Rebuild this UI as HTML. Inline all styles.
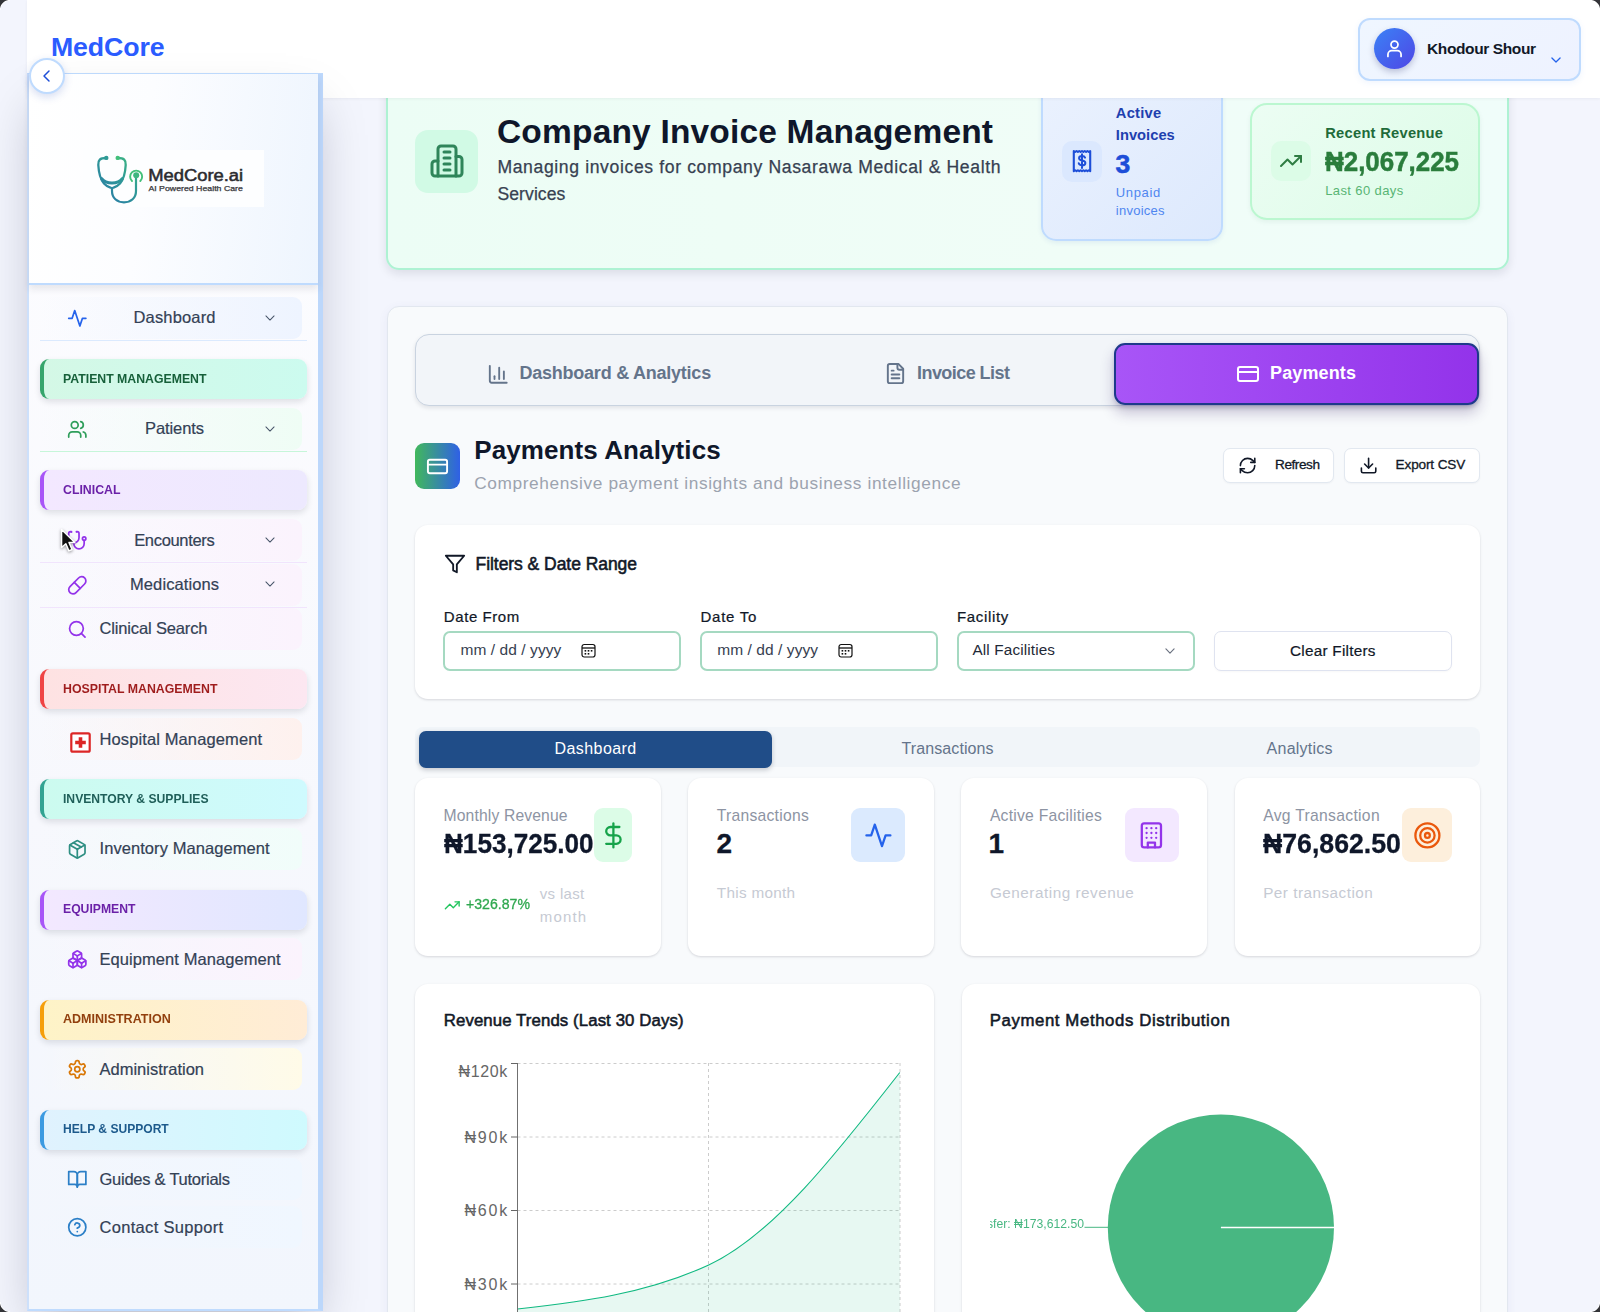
<!DOCTYPE html>
<html lang="en">
<head>
<meta charset="utf-8">
<title>MedCore - Company Invoice Management</title>
<style>
*{box-sizing:border-box;margin:0;padding:0}
html,body{width:1600px;height:1312px;overflow:hidden}
body{font-family:"Liberation Sans",sans-serif;background:#f3f5fd;position:relative;color:#0f172a}
.abs{position:absolute}
.t{position:absolute;white-space:nowrap;line-height:1}
svg{display:block;overflow:visible}
.ico{position:absolute;fill:none;stroke-linecap:round;stroke-linejoin:round}
.corner{position:absolute;width:10px;height:10px;z-index:50}
#hdr{left:27px;top:0;width:1573px;height:98px;background:#fff;z-index:10;box-shadow:0 1px 3px rgba(15,23,42,.05)}
#user{left:1358px;top:18px;width:223px;height:63px;border:2px solid #bfdbfe;border-radius:12px;background:linear-gradient(135deg,#eff6ff,#eef2ff);z-index:11;box-shadow:0 2px 6px rgba(59,130,246,.08)}
#avatar{left:1374px;top:28px;width:41px;height:41px;border-radius:50%;background:linear-gradient(135deg,#3b82f6,#4f46e5);z-index:12;box-shadow:0 3px 6px rgba(30,41,99,.25)}
#side{left:27px;top:73px;width:296px;height:1238px;background:linear-gradient(180deg,#fdfdff 0%,#f7f8fd 60%,#f2f6fd 100%);border-left:2px solid #cde0fb;border-right:5px solid #bcd7fb;border-top:1px solid #bfdbfe;border-bottom:2px solid #bfdbfe;z-index:20;box-shadow:0 25px 50px -12px rgba(10,12,40,.27)}
#logoP{left:29px;top:74px;width:289px;height:211px;background:linear-gradient(97deg,#ffffff 0%,#fcfdff 40%,#eef5fe 100%);border-bottom:2px solid #bfdbfe;z-index:21;box-shadow:0 4px 7px rgba(40,42,60,.10)}
#logoImg{left:83px;top:150px;width:181px;height:57px;background:#fdfeff;z-index:22}
#collapse{left:29px;top:58px;width:36px;height:36px;border-radius:50%;background:#fff;border:2px solid #bfdbfe;z-index:30;box-shadow:0 3px 8px rgba(30,64,175,.18)}
.sec{position:absolute;left:40px;width:267px;height:40px;border-radius:9px;border-left:4px solid;z-index:22;box-shadow:0 3px 6px rgba(15,23,42,.12)}
.nav{position:absolute;left:40px;width:262px;height:42px;border-radius:9px;z-index:22}
.navline{position:absolute;left:40px;width:267px;height:1px;z-index:22}
.chev{position:absolute;z-index:23;stroke:#475569;fill:none;stroke-width:1.8;stroke-linecap:round;stroke-linejoin:round}
.ni{position:absolute;z-index:23;fill:none;stroke-width:2;stroke-linecap:round;stroke-linejoin:round}
#hero{left:386.4px;top:59.5px;width:1122.6px;height:210px;border:2px solid #aef2d3;border-radius:13px;background:linear-gradient(90deg,#ecfdf5,#f0fdf7 60%,#f0fdfa);box-shadow:0 4px 10px rgba(15,23,42,.10);z-index:1}
#panel{left:387px;top:306px;width:1121.4px;height:1100px;border:1px solid #e2e7ef;border-radius:12px;background:#f8fafc;z-index:1;box-shadow:0 2px 10px rgba(80,90,150,.07)}
.card{position:absolute;background:#fff;border-radius:13px;box-shadow:0 1px 3px rgba(15,23,42,.10),0 1px 2px rgba(15,23,42,.05);z-index:2}
</style>
</head>
<body>
<div id="hdr" class="abs"></div>
<div class="t" style="left:51.0px;top:33.8px;font-size:26.7px;color:#2b5cff;z-index:11;font-weight:700;letter-spacing:-0.112px;">MedCore</div>
<div id="user" class="abs"></div><div id="avatar" class="abs"></div>
<svg class="ico" style="left:1384px;top:38px;z-index:13;stroke:#fff;stroke-width:2;" width="21" height="21" viewBox="0 0 24 24"><circle cx="12" cy="7.5" r="4"/><path d="M4.5 21v-2.2a4.3 4.3 0 0 1 4.3-4.3h6.4a4.3 4.3 0 0 1 4.3 4.3V21"/></svg>
<div class="t" style="left:1427.0px;top:40.6px;font-size:15.5px;color:#111827;z-index:12;font-weight:700;letter-spacing:-0.388px;">Khodour Shour</div>
<svg class="ico" style="left:1549px;top:53px;z-index:12;stroke:#2563eb;stroke-width:2.2;" width="14" height="14" viewBox="0 0 24 24"><path d="M5 8.5l7 7 7-7"/></svg>
<div id="side" class="abs"></div><div id="logoP" class="abs"></div><div id="logoImg" class="abs"></div>
<svg class="abs" style="left:83px;top:150px;z-index:23" width="181" height="57" viewBox="83 150 181 57">
<defs><linearGradient id="lg1" x1="100" y1="200" x2="140" y2="158" gradientUnits="userSpaceOnUse"><stop offset="0" stop-color="#2878a8"/><stop offset=".55" stop-color="#2f9a96"/><stop offset="1" stop-color="#43c07a"/></linearGradient></defs>
<g fill="none" stroke="url(#lg1)" stroke-width="2.300" stroke-linecap="round" stroke-linejoin="round">
<path d="M106 158 C100 158 98 160 98.3 165 C98.8 174 100 179 104 183.5 C107 187 111 187.5 111.5 188"/>
<path d="M118 158 C124 158 126 160 125.7 165 C125.2 174 124 179 120 183.5 C117 187 113 187.5 112.5 188"/>
<path d="M101.5 178.5 C106 184.5 118 184.5 122.5 178.5" stroke-width="3"/>
<path d="M112 188 V191 C112 198 117 202.3 124 202.3 C131 202.3 136 198 136 191 V176.5" stroke-width="2.2"/>
<path d="M132 181 A6 6 0 1 1 140.3 181" stroke="#43c07a" stroke-width="1.900"/>
</g>
<circle cx="106.3" cy="157.9" r="2.200" fill="#2f9a96"/><circle cx="117.7" cy="157.9" r="2.200" fill="#43c07a"/>
<circle cx="136.200" cy="175.200" r="3" fill="#3fb57f"/>
<text x="148.2" y="181" font-family="Liberation Sans, sans-serif" font-size="15.6" fill="#2b2b2f" stroke="#2b2b2f" stroke-width=".5" textLength="95" lengthAdjust="spacingAndGlyphs">MedCore.ai</text>
<text x="148.4" y="190.8" font-family="Liberation Sans, sans-serif" font-size="7" fill="#3a3a3e" stroke="#3a3a3e" stroke-width=".25" textLength="94.5" lengthAdjust="spacingAndGlyphs">AI Powered Health Care</text>
</svg>
<div id="collapse" class="abs"></div>
<svg class="ico" style="left:39px;top:68px;z-index:31;stroke:#1d4ed8;stroke-width:2.2;" width="16" height="16" viewBox="0 0 24 24"><path d="M15 4.5L7.5 12l7.5 7.5"/></svg>
<div class="nav" style="top:297px;background:linear-gradient(90deg,rgba(255,255,255,0) 0%,#eef4ff 100%)"></div>
<div class="navline" style="top:340.4px;background:#dbeafe"></div>
<svg class="ni" style="left:67px;top:307.8px;stroke:#2563eb" width="20.6" height="20.6" viewBox="0 0 24 24"><path d="M22 12h-4l-3 9L9 3l-3 9H2"/></svg>
<div class="t" style="left:133.5px;top:309.1px;font-size:16.5px;color:#334155;z-index:23;letter-spacing:0.162px;-webkit-text-stroke:0.2px #334155;">Dashboard</div>
<svg class="chev" style="left:263px;top:310.6px" width="14" height="14" viewBox="0 0 24 24"><path d="M5 8.5l7 7 7-7"/></svg>
<div class="sec" style="top:359px;background:linear-gradient(90deg,#d4f8e6,#ccfbef);border-left-color:#36a56c"></div>
<div class="t" style="left:63.0px;top:371.7px;font-size:13.7px;color:#17603a;z-index:23;font-weight:700;transform:scaleX(0.8972);transform-origin:0 50%;">PATIENT MANAGEMENT</div>
<div class="nav" style="top:408px;background:linear-gradient(90deg,rgba(255,255,255,0) 0%,#effdf5 100%)"></div>
<div class="navline" style="top:451.4px;background:#c6f6d9"></div>
<svg class="ni" style="left:67px;top:418.8px;stroke:#2f9e5b" width="20.6" height="20.6" viewBox="0 0 24 24"><path d="M16 21v-2a4 4 0 0 0-4-4H6a4 4 0 0 0-4 4v2"/><circle cx="9" cy="7" r="4"/><path d="M22 21v-2a4 4 0 0 0-3-3.87"/><path d="M16 3.13a4 4 0 0 1 0 7.75"/></svg>
<div class="t" style="left:145.0px;top:420.3px;font-size:16.5px;color:#334155;z-index:23;letter-spacing:-0.085px;-webkit-text-stroke:0.2px #334155;">Patients</div>
<svg class="chev" style="left:263px;top:421.6px" width="14" height="14" viewBox="0 0 24 24"><path d="M5 8.5l7 7 7-7"/></svg>
<div class="sec" style="top:470px;background:linear-gradient(90deg,#f3e8ff,#ede9fe);border-left-color:#a855f7"></div>
<div class="t" style="left:63.0px;top:482.7px;font-size:13.7px;color:#6b21a8;z-index:23;font-weight:700;transform:scaleX(0.9002);transform-origin:0 50%;">CLINICAL</div>
<div class="nav" style="top:519px;background:linear-gradient(90deg,rgba(255,255,255,0) 0%,#fbf3fd 100%)"></div>
<div class="navline" style="top:562.4px;background:#f1e4fd"></div>
<svg class="ni" style="left:67px;top:529.8px;stroke:#9333ea" width="20.6" height="20.6" viewBox="0 0 24 24"><path d="M4.8 2.3A.3.3 0 1 0 5 2H4a2 2 0 0 0-2 2v5a6 6 0 0 0 6 6 6 6 0 0 0 6-6V4a2 2 0 0 0-2-2h-1a.2.2 0 1 0 .3.3"/><path d="M8 15v1a6 6 0 0 0 6 6 6 6 0 0 0 6-6v-4"/><circle cx="20" cy="10" r="2"/></svg>
<div class="t" style="left:134.2px;top:531.8px;font-size:16.5px;color:#334155;z-index:23;letter-spacing:-0.326px;-webkit-text-stroke:0.2px #334155;">Encounters</div>
<svg class="chev" style="left:263px;top:532.6px" width="14" height="14" viewBox="0 0 24 24"><path d="M5 8.5l7 7 7-7"/></svg>
<div class="nav" style="top:563.8px;background:linear-gradient(90deg,rgba(255,255,255,0) 0%,#fbf3fd 100%)"></div>
<div class="navline" style="top:607.2px;background:#f1e4fd"></div>
<svg class="ni" style="left:67px;top:574.6px;stroke:#9333ea" width="20.6" height="20.6" viewBox="0 0 24 24"><path d="m10.5 20.5 10-10a4.95 4.95 0 1 0-7-7l-10 10a4.95 4.95 0 1 0 7 7Z"/><path d="m8.5 8.5 7 7"/></svg>
<div class="t" style="left:130.0px;top:576.1px;font-size:16.5px;color:#334155;z-index:23;letter-spacing:0.097px;-webkit-text-stroke:0.2px #334155;">Medications</div>
<svg class="chev" style="left:263px;top:577.4px" width="14" height="14" viewBox="0 0 24 24"><path d="M5 8.5l7 7 7-7"/></svg>
<div class="nav" style="top:608.4px;background:linear-gradient(90deg,rgba(255,255,255,0) 0%,#fbf3fd 100%)"></div>
<svg class="ni" style="left:67px;top:619.2px;stroke:#9333ea" width="20.6" height="20.6" viewBox="0 0 24 24"><circle cx="11" cy="11" r="8"/><path d="m21 21-4.3-4.3"/></svg>
<div class="t" style="left:99.5px;top:620.2px;font-size:16.5px;color:#334155;z-index:23;letter-spacing:-0.146px;-webkit-text-stroke:0.2px #334155;">Clinical Search</div>
<div class="sec" style="top:669px;background:linear-gradient(90deg,#fee2e2,#fce7f1);border-left-color:#ef4444"></div>
<div class="t" style="left:63.0px;top:681.7px;font-size:13.7px;color:#9f1d1d;z-index:23;font-weight:700;transform:scaleX(0.9017);transform-origin:0 50%;">HOSPITAL MANAGEMENT</div>
<div class="nav" style="top:718px;background:linear-gradient(90deg,rgba(255,255,255,0) 0%,#fef1ee 100%)"></div>
<svg class="ni" style="left:70.4px;top:732.0px" width="21" height="21" viewBox="0 0 21 21"><rect x="1.3" y="1.3" width="18.4" height="18.4" rx="1.5" fill="#fff" stroke="#dc2626" stroke-width="2.2"/><path d="M10.5 5.2v10.6M5.2 10.5h10.6" stroke="#dc2626" stroke-width="3.6" stroke-linecap="butt"/></svg>
<div class="t" style="left:99.5px;top:730.6px;font-size:16.5px;color:#334155;z-index:23;letter-spacing:0.113px;-webkit-text-stroke:0.2px #334155;">Hospital Management</div>
<div class="sec" style="top:779px;background:linear-gradient(90deg,#ccfbef,#cffafe);border-left-color:#32a392"></div>
<div class="t" style="left:63.0px;top:791.7px;font-size:13.7px;color:#1f5f59;z-index:23;font-weight:700;transform:scaleX(0.8873);transform-origin:0 50%;">INVENTORY &amp; SUPPLIES</div>
<div class="nav" style="top:828px;background:linear-gradient(90deg,rgba(255,255,255,0) 0%,#f1fdfa 100%)"></div>
<svg class="ni" style="left:67px;top:838.8px;stroke:#2f8f83" width="20.6" height="20.6" viewBox="0 0 24 24"><path d="m7.5 4.27 9 5.15"/><path d="M21 8a2 2 0 0 0-1-1.73l-7-4a2 2 0 0 0-2 0l-7 4A2 2 0 0 0 3 8v8a2 2 0 0 0 1 1.73l7 4a2 2 0 0 0 2 0l7-4A2 2 0 0 0 21 16Z"/><path d="m3.3 7 8.7 5 8.7-5"/><path d="M12 22V12"/></svg>
<div class="t" style="left:99.5px;top:840.4px;font-size:16.5px;color:#334155;z-index:23;letter-spacing:0.068px;-webkit-text-stroke:0.2px #334155;">Inventory Management</div>
<div class="sec" style="top:889.5px;background:linear-gradient(90deg,#f3e8ff,#e0e7ff);border-left-color:#a855f7"></div>
<div class="t" style="left:63.0px;top:902.2px;font-size:13.7px;color:#6b21a8;z-index:23;font-weight:700;transform:scaleX(0.8911);transform-origin:0 50%;">EQUIPMENT</div>
<div class="nav" style="top:938px;background:linear-gradient(90deg,rgba(255,255,255,0) 0%,#fbf3fd 100%)"></div>
<svg class="ni" style="left:67px;top:948.8px;stroke:#9333ea" width="20.6" height="20.6" viewBox="0 0 24 24"><path d="M2.97 12.92A2 2 0 0 0 2 14.63v3.24a2 2 0 0 0 .97 1.71l3 1.8a2 2 0 0 0 2.06 0L12 19v-5.5l-5-3-4.03 2.42Z"/><path d="m7 16.5-4.74-2.85"/><path d="m7 16.5 5-3"/><path d="M7 16.5v5.17"/><path d="M12 13.5V19l3.97 2.38a2 2 0 0 0 2.06 0l3-1.8a2 2 0 0 0 .97-1.71v-3.24a2 2 0 0 0-.97-1.71L17 10.5l-5 3Z"/><path d="m17 16.5-5-3"/><path d="m17 16.5 4.74-2.85"/><path d="M17 16.5v5.17"/><path d="M7.97 4.42A2 2 0 0 0 7 6.13v4.37l5 3 5-3V6.13a2 2 0 0 0-.97-1.71l-3-1.8a2 2 0 0 0-2.06 0l-3 1.8Z"/><path d="M12 8 7.26 5.15"/><path d="m12 8 4.74-2.85"/><path d="M12 13.5V8"/></svg>
<div class="t" style="left:99.5px;top:950.6px;font-size:16.5px;color:#334155;z-index:23;letter-spacing:0.067px;-webkit-text-stroke:0.2px #334155;">Equipment Management</div>
<div class="sec" style="top:999.5px;background:linear-gradient(90deg,#fef3c7,#ffecd6);border-left-color:#f59e0b"></div>
<div class="t" style="left:63.0px;top:1012.2px;font-size:13.7px;color:#92400e;z-index:23;font-weight:700;transform:scaleX(0.9157);transform-origin:0 50%;">ADMINISTRATION</div>
<div class="nav" style="top:1048px;background:linear-gradient(90deg,rgba(255,255,255,0) 0%,#fffbe8 100%)"></div>
<svg class="ni" style="left:67px;top:1058.8px;stroke:#d97706" width="20.6" height="20.6" viewBox="0 0 24 24"><path d="M12.22 2h-.44a2 2 0 0 0-2 2v.18a2 2 0 0 1-1 1.73l-.43.25a2 2 0 0 1-2 0l-.15-.08a2 2 0 0 0-2.73.73l-.22.38a2 2 0 0 0 .73 2.73l.15.1a2 2 0 0 1 1 1.72v.51a2 2 0 0 1-1 1.74l-.15.09a2 2 0 0 0-.73 2.73l.22.38a2 2 0 0 0 2.73.73l.15-.08a2 2 0 0 1 2 0l.43.25a2 2 0 0 1 1 1.73V20a2 2 0 0 0 2 2h.44a2 2 0 0 0 2-2v-.18a2 2 0 0 1 1-1.73l.43-.25a2 2 0 0 1 2 0l.15.08a2 2 0 0 0 2.73-.73l.22-.39a2 2 0 0 0-.73-2.73l-.15-.08a2 2 0 0 1-1-1.74v-.5a2 2 0 0 1 1-1.74l.15-.09a2 2 0 0 0 .73-2.73l-.22-.38a2 2 0 0 0-2.73-.73l-.15.08a2 2 0 0 1-2 0l-.43-.25a2 2 0 0 1-1-1.73V4a2 2 0 0 0-2-2z"/><circle cx="12" cy="12" r="3"/></svg>
<div class="t" style="left:99.5px;top:1060.8px;font-size:16.5px;color:#334155;z-index:23;-webkit-text-stroke:0.2px #334155;">Administration</div>
<div class="sec" style="top:1109.5px;background:linear-gradient(90deg,#e0f2fe,#cffafe);border-left-color:#3b9ae1"></div>
<div class="t" style="left:63.0px;top:1122.2px;font-size:13.7px;color:#1d5a8c;z-index:23;font-weight:700;transform:scaleX(0.8816);transform-origin:0 50%;">HELP &amp; SUPPORT</div>
<div class="nav" style="top:1158px;background:linear-gradient(90deg,rgba(255,255,255,0) 0%,#f0f7ff 100%)"></div>
<svg class="ni" style="left:67px;top:1168.8px;stroke:#2b7fc7" width="20.6" height="20.6" viewBox="0 0 24 24"><path d="M2 3h6a4 4 0 0 1 4 4v14a3 3 0 0 0-3-3H2z"/><path d="M22 3h-6a4 4 0 0 0-4 4v14a3 3 0 0 1 3-3h7z"/></svg>
<div class="t" style="left:99.5px;top:1170.9px;font-size:16.5px;color:#334155;z-index:23;letter-spacing:-0.252px;-webkit-text-stroke:0.2px #334155;">Guides &amp; Tutorials</div>
<div class="nav" style="top:1206px;background:linear-gradient(90deg,rgba(255,255,255,0) 0%,#f0f7ff 100%)"></div>
<svg class="ni" style="left:67px;top:1216.8px;stroke:#2b7fc7" width="20.6" height="20.6" viewBox="0 0 24 24"><circle cx="12" cy="12" r="10"/><path d="M9.09 9a3 3 0 0 1 5.83 1c0 2-3 3-3 3"/><path d="M12 17h.01"/></svg>
<div class="t" style="left:99.5px;top:1218.7px;font-size:16.5px;color:#334155;z-index:23;letter-spacing:0.308px;-webkit-text-stroke:0.2px #334155;">Contact Support</div>
<svg class="abs" style="left:60px;top:527.6px;z-index:40;filter:drop-shadow(0 1px 1.5px rgba(0,0,0,.4))" width="18.8" height="27.2" viewBox="0 0 18 26"><path d="M1.5 1.5v17.2l4.1-3.7 2.9 6.9 3-1.3-2.9-6.7h5.6z" fill="#111" stroke="#fff" stroke-width="1.4" stroke-linejoin="round"/></svg>
<div id="hero" class="abs"></div>
<div class="abs" style="left:415px;top:130px;width:63px;height:63px;background:#d1fae5;border-radius:13px;z-index:2"></div>
<svg class="ico" style="left:428.5px;top:143px;z-index:3;stroke:#2f855a;stroke-width:2;" width="36" height="36" viewBox="0 0 24 24"><path d="M6 22V4a2 2 0 0 1 2-2h8a2 2 0 0 1 2 2v18Z"/><path d="M6 12H4a2 2 0 0 0-2 2v6a2 2 0 0 0 2 2h2"/><path d="M18 9h2a2 2 0 0 1 2 2v9a2 2 0 0 1-2 2h-2"/><path d="M10 6h4"/><path d="M10 10h4"/><path d="M10 14h4"/><path d="M10 18h4"/></svg>
<div class="t" style="left:497.0px;top:114.6px;font-size:33.5px;color:#0f172a;z-index:3;font-weight:700;letter-spacing:0.182px;">Company Invoice Management</div>
<div class="t" style="left:497.4px;top:158.7px;font-size:17.6px;color:#374151;z-index:3;letter-spacing:0.624px;-webkit-text-stroke:0.25px #374151;">Managing invoices for company Nasarawa Medical &amp; Health</div>
<div class="t" style="left:497.4px;top:186.0px;font-size:17.6px;color:#374151;z-index:3;letter-spacing:0.078px;-webkit-text-stroke:0.25px #374151;">Services</div>
<div class="abs" style="left:1041px;top:60px;width:181.5px;height:180.6px;border:2px solid #bfdbfe;border-radius:15px;background:linear-gradient(135deg,#ebf2fe,#dde9fd);z-index:2;box-shadow:0 2px 5px rgba(30,64,175,.08)"></div>
<div class="abs" style="left:1061.5px;top:141.2px;width:40.3px;height:40.5px;background:#dbe8fe;border-radius:10px;z-index:3"></div>
<svg class="abs" style="left:1071.5px;top:149.4px;z-index:4" width="20" height="24.2" viewBox="0 0 19 23"><path d="M1.7 1.9l1.3.9 1.3-.9 1.3.9 1.3-.9 1.3.9 1.3-.9 1.3.9 1.3-.9 1.3.9 1.3-.9 1.3.9 1.3-.9V21.1l-1.3-.9-1.3.9-1.3-.9-1.3.9-1.3-.9-1.3.9-1.3-.9-1.3.9-1.3-.9-1.3.9-1.3-.9-1.3.9z" fill="none" stroke="#1d4ed8" stroke-width="2" stroke-linejoin="round"/><path d="M12.4 8.2c-.4-1-1.400-1.600-2.800-1.600-1.700 0-2.900.8-2.900 2.200 0 3 6 1.300 6 4.400 0 1.500-1.300 2.300-3.100 2.300-1.600 0-2.800-.7-3.200-1.900M9.500 5v13" fill="none" stroke="#1d4ed8" stroke-width="1.9" stroke-linecap="round"/></svg>
<div class="t" style="left:1115.8px;top:105.8px;font-size:14.7px;color:#1e40af;z-index:4;font-weight:700;letter-spacing:0.261px;">Active</div>
<div class="t" style="left:1115.8px;top:128.4px;font-size:14.7px;color:#1e40af;z-index:4;font-weight:700;letter-spacing:0.031px;">Invoices</div>
<div class="t" style="left:1115.5px;top:150.8px;font-size:26.5px;color:#1d4ed8;z-index:4;font-weight:700;-webkit-text-stroke:0.6px #1d4ed8;">3</div>
<div class="t" style="left:1115.8px;top:186.2px;font-size:13px;color:#4f86f0;z-index:4;letter-spacing:0.656px;">Unpaid</div>
<div class="t" style="left:1115.8px;top:204.2px;font-size:13px;color:#4f86f0;z-index:4;letter-spacing:0.245px;">invoices</div>
<div class="abs" style="left:1250px;top:103px;width:230px;height:117px;border:2px solid #bbf7d0;border-radius:17px;background:linear-gradient(135deg,#ecfdf3,#dcfce7);z-index:2;box-shadow:0 2px 5px rgba(22,101,52,.07)"></div>
<div class="abs" style="left:1270.5px;top:141px;width:40.5px;height:40.3px;background:#dcfce7;border-radius:10px;z-index:3"></div>
<svg class="ico" style="left:1278.8px;top:149px;z-index:4;stroke:#2f7d43;stroke-width:2;" width="24" height="24" viewBox="0 0 24 24"><path d="M22 7l-8.500 8.500-5-5L2 17"/><path d="M16 7h6v6"/></svg>
<div class="t" style="left:1325.2px;top:126.3px;font-size:14.7px;color:#1f6b3a;z-index:4;font-weight:700;letter-spacing:0.269px;">Recent Revenue</div>
<div class="t" style="left:1325.0px;top:148.3px;font-size:27.4px;color:#2a7d3c;z-index:4;font-weight:700;-webkit-text-stroke:0.5px #2a7d3c;transform:scaleX(0.9461);transform-origin:0 50%;">₦2,067,225</div>
<div class="t" style="left:1325.2px;top:184.0px;font-size:13px;color:#58b574;z-index:4;letter-spacing:0.388px;">Last 60 days</div>
<div id="panel" class="abs"></div>
<div class="abs" style="left:415px;top:334px;width:1065px;height:72px;background:#f2f5f9;border:1px solid #c9d3e0;border-radius:14px;z-index:2;box-shadow:0 2px 4px rgba(15,23,42,.10)"></div>
<svg class="ico" style="left:486.9px;top:362.7px;z-index:3;stroke:#64748b;stroke-width:2;" width="22.5" height="22.5" viewBox="0 0 24 24"><path d="M3 3v16a2 2 0 0 0 2 2h16"/><path d="M18 17V9"/><path d="M13 17V5"/><path d="M8 17v-3"/></svg>
<div class="t" style="left:519.5px;top:363.9px;font-size:18px;color:#64748b;z-index:3;font-weight:700;letter-spacing:-0.237px;">Dashboard &amp; Analytics</div>
<svg class="ico" style="left:884.1px;top:362px;z-index:3;stroke:#64748b;stroke-width:2;" width="23" height="23" viewBox="0 0 24 24"><path d="M15 2H6a2 2 0 0 0-2 2v16a2 2 0 0 0 2 2h12a2 2 0 0 0 2-2V7Z"/><path d="M14 2v4a2 2 0 0 0 2 2h4"/><path d="M10 9H8"/><path d="M16 13H8"/><path d="M16 17H8"/></svg>
<div class="t" style="left:917.0px;top:363.9px;font-size:18px;color:#64748b;z-index:3;font-weight:700;letter-spacing:-0.551px;">Invoice List</div>
<div class="abs" style="left:1114px;top:343px;width:365px;height:62px;background:linear-gradient(90deg,#a855f7,#9333ea);border:2px solid #1e3a8a;border-radius:11px;z-index:3;box-shadow:0 8px 14px rgba(40,20,90,.24),0 2px 4px rgba(40,20,90,.15)"></div>
<svg class="ico" style="left:1236px;top:361.5px;z-index:4;stroke:#fff;stroke-width:2;" width="24" height="24" viewBox="0 0 24 24"><rect x="2" y="5" width="20" height="14" rx="2"/><path d="M2 10h20"/></svg>
<div class="t" style="left:1270.0px;top:363.9px;font-size:18px;color:#fff;z-index:4;font-weight:700;letter-spacing:0.134px;">Payments</div>
<div class="abs" style="left:415px;top:443px;width:45px;height:45.5px;background:linear-gradient(90deg,#41b85c,#2f60e6);border-radius:9px;z-index:2"></div>
<svg class="ico" style="left:426px;top:454.6px;z-index:3;stroke:#fff;stroke-width:2;" width="23" height="23" viewBox="0 0 24 24"><rect x="2" y="5" width="20" height="14" rx="2"/><path d="M2 10h20"/></svg>
<div class="t" style="left:474.2px;top:437.4px;font-size:26px;color:#0f172a;z-index:3;font-weight:700;letter-spacing:0.104px;">Payments Analytics</div>
<div class="t" style="left:474.2px;top:474.7px;font-size:17.3px;color:#9ca3af;z-index:3;letter-spacing:0.598px;">Comprehensive payment insights and business intelligence</div>
<div class="abs" style="left:1223.4px;top:448px;width:111px;height:35px;background:#fff;border:1px solid #e2e8f0;border-radius:7px;z-index:2;box-shadow:0 1px 2px rgba(15,23,42,.04)"></div>
<svg class="ico" style="left:1237.6px;top:456.1px;z-index:3;stroke:#111827;stroke-width:2;" width="19.2" height="19.2" viewBox="0 0 24 24"><path d="M3 12a9 9 0 0 1 9-9 9.750 9.750 0 0 1 6.740 2.740L21 8"/><path d="M21 3v5h-5"/><path d="M21 12a9 9 0 0 1-9 9 9.750 9.750 0 0 1-6.740-2.740L3 16"/><path d="M8 16H3v5"/></svg>
<div class="t" style="left:1275.0px;top:458.4px;font-size:13.6px;color:#111827;z-index:3;letter-spacing:-0.435px;-webkit-text-stroke:0.3px #111827;">Refresh</div>
<div class="abs" style="left:1344.4px;top:448px;width:135.2px;height:35px;background:#fff;border:1px solid #e2e8f0;border-radius:7px;z-index:2;box-shadow:0 1px 2px rgba(15,23,42,.04)"></div>
<svg class="ico" style="left:1358.7px;top:456.1px;z-index:3;stroke:#111827;stroke-width:2;" width="19.2" height="19.2" viewBox="0 0 24 24"><path d="M21 15v4a2 2 0 0 1-2 2H5a2 2 0 0 1-2-2v-4"/><path d="M7 10l5 5 5-5"/><path d="M12 15V3"/></svg>
<div class="t" style="left:1395.6px;top:458.4px;font-size:13.6px;color:#111827;z-index:3;letter-spacing:-0.146px;-webkit-text-stroke:0.3px #111827;">Export CSV</div>
<div class="card" style="left:415px;top:525px;width:1065px;height:174px;"></div>
<svg class="ico" style="left:443.5px;top:553px;z-index:3;stroke:#111827;stroke-width:2;" width="22" height="22" viewBox="0 0 24 24"><path d="M22 3H2l8 9.460V19l4 2v-8.540L22 3z"/></svg>
<div class="t" style="left:475.5px;top:555.9px;font-size:17.5px;color:#111827;z-index:3;letter-spacing:-0.049px;-webkit-text-stroke:0.55px #111827;">Filters &amp; Date Range</div>
<div class="t" style="left:443.8px;top:609.3px;font-size:15px;color:#111827;z-index:3;letter-spacing:0.580px;-webkit-text-stroke:0.22px #111827;">Date From</div>
<div class="t" style="left:700.5px;top:609.3px;font-size:15px;color:#111827;z-index:3;letter-spacing:0.727px;-webkit-text-stroke:0.22px #111827;">Date To</div>
<div class="t" style="left:957.0px;top:609.3px;font-size:15px;color:#111827;z-index:3;letter-spacing:0.663px;-webkit-text-stroke:0.22px #111827;">Facility</div>
<div class="abs" style="left:443.3px;top:630.6px;width:238px;height:40px;background:#fff;border:2px solid #a5d9c1;border-radius:7px;z-index:3"></div>
<div class="t" style="left:460.5px;top:642.2px;font-size:15.5px;color:#374151;z-index:4;letter-spacing:0.066px;">mm / dd / yyyy</div>
<svg class="abs" style="left:581.4px;top:643.2px;z-index:4" width="15" height="15" viewBox="0 0 15 15"><rect x="1" y="1.500" width="13" height="12.500" rx="2.200" fill="none" stroke="#111" stroke-width="1.200"/><path d="M1 5h13" stroke="#111" stroke-width="1.300"/><g fill="#111"><rect x="3.600" y="7" width="1.600" height="1.600"/><rect x="6.700" y="7" width="1.600" height="1.600"/><rect x="9.800" y="7" width="1.600" height="1.600"/><rect x="3.600" y="10" width="1.600" height="1.600"/><rect x="6.700" y="10" width="1.600" height="1.600"/></g></svg>
<div class="abs" style="left:700.1px;top:630.6px;width:238px;height:40px;background:#fff;border:2px solid #a5d9c1;border-radius:7px;z-index:3"></div>
<div class="t" style="left:717.3px;top:642.2px;font-size:15.5px;color:#374151;z-index:4;letter-spacing:0.066px;">mm / dd / yyyy</div>
<svg class="abs" style="left:838.2px;top:643.2px;z-index:4" width="15" height="15" viewBox="0 0 15 15"><rect x="1" y="1.500" width="13" height="12.500" rx="2.200" fill="none" stroke="#111" stroke-width="1.200"/><path d="M1 5h13" stroke="#111" stroke-width="1.300"/><g fill="#111"><rect x="3.600" y="7" width="1.600" height="1.600"/><rect x="6.700" y="7" width="1.600" height="1.600"/><rect x="9.800" y="7" width="1.600" height="1.600"/><rect x="3.600" y="10" width="1.600" height="1.600"/><rect x="6.700" y="10" width="1.600" height="1.600"/></g></svg>
<div class="abs" style="left:956.7px;top:630.6px;width:238px;height:40px;background:#fff;border:2px solid #a5d9c1;border-radius:7px;z-index:3"></div>
<div class="t" style="left:972.5px;top:642.0px;font-size:15.3px;color:#1f2937;z-index:4;letter-spacing:0.131px;">All Facilities</div>
<svg class="ico" style="left:1163.4px;top:644px;z-index:4;stroke:#6b7280;stroke-width:2;" width="14" height="14" viewBox="0 0 24 24"><path d="M5 8.500l7 7 7-7"/></svg>
<div class="abs" style="left:1213.8px;top:630.5px;width:238.3px;height:40px;background:#fff;border:1px solid #dfe3f0;border-radius:7px;z-index:3;box-shadow:0 1px 2px rgba(15,23,42,.03)"></div>
<div class="t" style="left:1290.0px;top:642.5px;font-size:15.3px;color:#111827;z-index:4;letter-spacing:0.254px;-webkit-text-stroke:0.2px #111827;">Clear Filters</div>
<div class="abs" style="left:415px;top:727.3px;width:1065px;height:40.2px;background:#f1f5f9;border-radius:8px;z-index:2"></div>
<div class="abs" style="left:419.3px;top:731.3px;width:352.5px;height:36.4px;background:#204d88;border-radius:7px;z-index:3;box-shadow:0 2px 5px rgba(15,23,42,.22)"></div>
<div class="t" style="left:554.5px;top:741.0px;font-size:16px;color:#fff;z-index:4;letter-spacing:0.434px;">Dashboard</div>
<div class="t" style="left:901.6px;top:741.0px;font-size:16px;color:#64748b;z-index:4;letter-spacing:0.085px;">Transactions</div>
<div class="t" style="left:1266.6px;top:741.0px;font-size:16px;color:#64748b;z-index:4;letter-spacing:0.242px;">Analytics</div>
<div class="card" style="left:415px;top:777.5px;width:245.6px;height:178.3px;"></div>
<div class="card" style="left:688.2px;top:777.5px;width:245.6px;height:178.3px;"></div>
<div class="card" style="left:961.4px;top:777.5px;width:245.6px;height:178.3px;"></div>
<div class="card" style="left:1234.6px;top:777.5px;width:245.6px;height:178.3px;"></div>
<div class="t" style="left:443.5px;top:808.1px;font-size:15.7px;color:#8d94a3;z-index:3;letter-spacing:0.141px;">Monthly Revenue</div>
<div class="t" style="left:443.9px;top:830.1px;font-size:28px;color:#0f172a;z-index:3;font-weight:700;-webkit-text-stroke:0.3px #0f172a;transform:scaleX(0.9326);transform-origin:0 50%;">₦153,725.00</div>
<div class="abs" style="left:594.4px;top:807.5px;width:38px;height:54.3px;background:#dcfce7;border-radius:9px;z-index:3"></div>
<svg class="ico" style="left:599px;top:820.5px;z-index:4;stroke:#16a34a;stroke-width:1.9;" width="28.8" height="28.8" viewBox="0 0 24 24"><path d="M12 2v20"/><path d="M17 5H9.500a3.500 3.500 0 0 0 0 7h5a3.500 3.500 0 0 1 0 7H6"/></svg>
<svg class="ico" style="left:443.5px;top:897px;z-index:4;stroke:#22c55e;stroke-width:2;" width="16.5" height="16.5" viewBox="0 0 24 24"><path d="M22 7l-8.500 8.500-5-5L2 17"/><path d="M16 7h6v6"/></svg>
<div class="t" style="left:466.0px;top:897.4px;font-size:14.7px;color:#2fa84f;z-index:3;-webkit-text-stroke:0.3px #2fa84f;transform:scaleX(0.9613);transform-origin:0 50%;">+326.87%</div>
<div class="t" style="left:539.8px;top:885.9px;font-size:15px;color:#c6cad3;z-index:3;letter-spacing:0.314px;">vs last</div>
<div class="t" style="left:539.8px;top:908.7px;font-size:15px;color:#c6cad3;z-index:3;letter-spacing:1.174px;">month</div>
<div class="t" style="left:716.8px;top:808.1px;font-size:15.7px;color:#8d94a3;z-index:3;letter-spacing:0.247px;">Transactions</div>
<div class="t" style="left:716.5px;top:830.1px;font-size:28px;color:#0f172a;z-index:3;font-weight:700;-webkit-text-stroke:0.3px #0f172a;">2</div>
<div class="abs" style="left:851.2px;top:807.5px;width:54.2px;height:54.3px;background:#dbeafe;border-radius:9px;z-index:3"></div>
<svg class="ico" style="left:864px;top:820.5px;z-index:4;stroke:#2563eb;stroke-width:1.9;" width="28.8" height="28.8" viewBox="0 0 24 24"><path d="M22 12h-4l-3 9L9 3l-3 9H2"/></svg>
<div class="t" style="left:716.8px;top:885.3px;font-size:15.3px;color:#c6cad3;z-index:3;letter-spacing:0.294px;">This month</div>
<div class="t" style="left:989.9px;top:808.1px;font-size:15.7px;color:#8d94a3;z-index:3;letter-spacing:0.245px;">Active Facilities</div>
<div class="t" style="left:988.5px;top:830.1px;font-size:28px;color:#0f172a;z-index:3;font-weight:700;-webkit-text-stroke:0.3px #0f172a;">1</div>
<div class="abs" style="left:1124.5px;top:807.5px;width:54.2px;height:54.3px;background:#f3e8ff;border-radius:9px;z-index:3"></div>
<svg class="ico" style="left:1137.1px;top:820.5px;z-index:4;stroke:#9333ea;stroke-width:1.9;" width="28.8" height="28.8" viewBox="0 0 24 24"><rect x="4" y="2" width="16" height="20" rx="2"/><path d="M9 22v-4h6v4"/><path d="M8 6h.01"/><path d="M16 6h.01"/><path d="M12 6h.01"/><path d="M12 10h.01"/><path d="M12 14h.01"/><path d="M16 10h.01"/><path d="M16 14h.01"/><path d="M8 10h.01"/><path d="M8 14h.01"/></svg>
<div class="t" style="left:989.9px;top:885.3px;font-size:15.3px;color:#c6cad3;z-index:3;letter-spacing:0.515px;">Generating revenue</div>
<div class="t" style="left:1263.2px;top:808.1px;font-size:15.7px;color:#8d94a3;z-index:3;letter-spacing:0.302px;">Avg Transaction</div>
<div class="t" style="left:1263.2px;top:830.1px;font-size:28px;color:#0f172a;z-index:3;font-weight:700;-webkit-text-stroke:0.3px #0f172a;transform:scaleX(0.9522);transform-origin:0 50%;">₦76,862.50</div>
<div class="abs" style="left:1402px;top:807.5px;width:50.2px;height:54.3px;background:#fdefdc;border-radius:9px;z-index:3"></div>
<svg class="ico" style="left:1412.7px;top:820.5px;z-index:4;stroke:#ea580c;stroke-width:1.9;" width="28.8" height="28.8" viewBox="0 0 24 24"><circle cx="12" cy="12" r="10"/><circle cx="12" cy="12" r="6"/><circle cx="12" cy="12" r="2"/></svg>
<div class="t" style="left:1263.2px;top:885.3px;font-size:15.3px;color:#c6cad3;z-index:3;letter-spacing:0.481px;">Per transaction</div>
<div class="card" style="left:415px;top:984px;width:519px;height:400px;"></div>
<div class="card" style="left:961.5px;top:984px;width:518.5px;height:400px;"></div>
<div class="t" style="left:443.8px;top:1012.8px;font-size:16.8px;color:#111827;z-index:3;letter-spacing:0.099px;-webkit-text-stroke:0.55px #111827;">Revenue Trends (Last 30 Days)</div>
<div class="t" style="left:989.7px;top:1012.8px;font-size:16.8px;color:#111827;z-index:3;letter-spacing:0.599px;-webkit-text-stroke:0.55px #111827;">Payment Methods Distribution</div>
<svg class="abs" style="left:0;top:0;z-index:3" width="1600" height="1312" viewBox="0 0 1600 1312"><g stroke="#ccc" stroke-width="1" stroke-dasharray="3 3" fill="none"><path d="M517.5 1063.5H900"/><path d="M517.5 1137H900"/><path d="M517.5 1210.5H900"/><path d="M517.5 1284H900"/><path d="M708.5 1063V1312"/><path d="M900 1063V1312"/></g><path d="M517.5 1309C581.2 1301.7 645 1294.3 708.7 1265C772.4 1235.700 836.1 1154.1 899.8 1072.5V1330H517.5Z" fill="#10b981" fill-opacity=".1"/><path d="M517.5 1309C581.2 1301.7 645 1294.3 708.7 1265C772.4 1235.700 836.1 1154.1 899.8 1072.5" fill="none" stroke="#10b981" stroke-width="1.100"/><path d="M517.5 1063V1312" stroke="#707070" stroke-width="1"/><path d="M511 1063.5H517.5" stroke="#666" stroke-width="1"/><path d="M511 1137H517.5" stroke="#666" stroke-width="1"/><path d="M511 1210.5H517.5" stroke="#666" stroke-width="1"/><path d="M511 1284H517.5" stroke="#666" stroke-width="1"/><circle cx="1220.900" cy="1227.600" r="113.100" fill="#48b782"/><path d="M1220.900 1227.500H1334.300" stroke="#fff" stroke-width="1.400"/><path d="M1084.500 1227.300H1108.500" stroke="#48b782" stroke-width="1"/></svg>
<div class="t" style="left:458.6px;top:1063.5px;font-size:16px;color:#666;z-index:4;letter-spacing:0.605px;">₦120k</div>
<div class="t" style="left:464.5px;top:1129.6px;font-size:16px;color:#666;z-index:4;letter-spacing:1.808px;">₦90k</div>
<div class="t" style="left:464.5px;top:1203.0px;font-size:16px;color:#666;z-index:4;letter-spacing:1.808px;">₦60k</div>
<div class="t" style="left:464.5px;top:1276.7px;font-size:16px;color:#666;z-index:4;letter-spacing:1.808px;">₦30k</div>
<div class="abs" style="left:989.5px;top:1210px;width:100px;height:26px;overflow:hidden;z-index:4"><div class="t" style="left:-2.3px;top:6.7px;font-size:13px;color:#48b782;z-index:4;transform:scaleX(0.9383);transform-origin:0 50%;">sfer: ₦173,612.50</div></div>
<div class="corner" style="left:0;top:0;background:radial-gradient(circle at 100% 100%,rgba(51,52,56,0) 9px,rgba(255,255,255,.9) 9.6px,#333438 10.6px)"></div>
<div class="corner" style="right:0;top:0;background:radial-gradient(circle at 0 100%,rgba(51,52,56,0) 9px,rgba(255,255,255,.9) 9.6px,#333438 10.6px)"></div>
<div class="corner" style="left:0;bottom:0;background:radial-gradient(circle at 100% 0,rgba(51,52,56,0) 9px,rgba(255,255,255,.9) 9.6px,#333438 10.6px)"></div>
<div class="corner" style="right:0;bottom:0;background:radial-gradient(circle at 0 0,rgba(51,52,56,0) 9px,rgba(255,255,255,.9) 9.6px,#333438 10.6px)"></div>
</body>
</html>
